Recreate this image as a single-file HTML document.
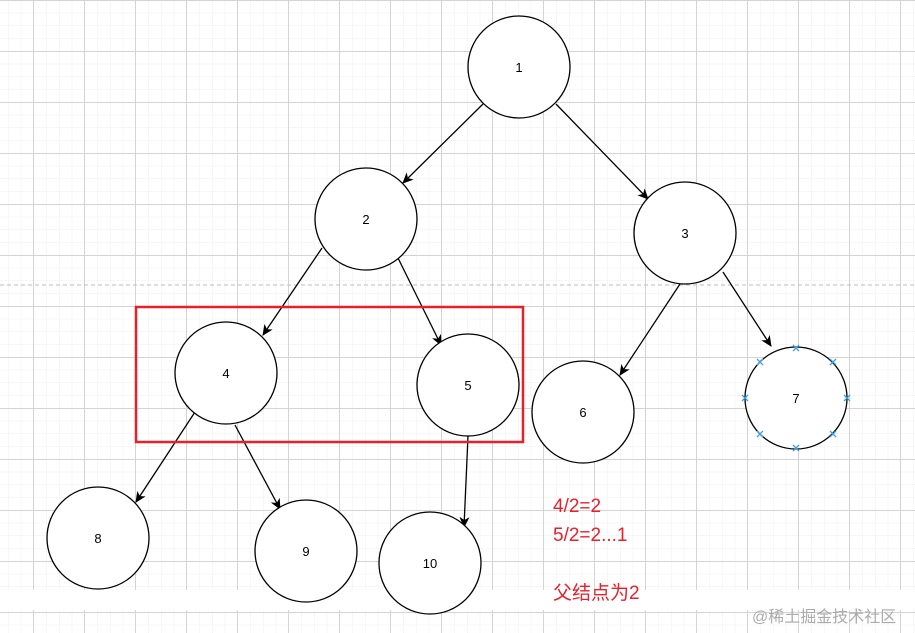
<!DOCTYPE html>
<html><head><meta charset="utf-8"><style>
html,body{margin:0;padding:0;background:#fff;}
svg{display:block;}
</style></head><body>
<svg width="915" height="633" xmlns="http://www.w3.org/2000/svg" font-family="Liberation Sans, sans-serif">
<defs>
<pattern id="minor" width="12.75" height="12.75" patternUnits="userSpaceOnUse" x="8" y="0">
<path d="M0 0H12.75M0 0V12.75" stroke="#efefef" stroke-width="1" fill="none"/>
</pattern>
<pattern id="major" width="51" height="51" patternUnits="userSpaceOnUse" x="33" y="0">
<path d="M0 0.5H51M0.5 0V51" stroke="#d4d4d4" stroke-width="1" fill="none"/>
</pattern>
<marker id="ar" markerWidth="12" markerHeight="12" refX="10" refY="5" orient="auto" markerUnits="userSpaceOnUse">
<path d="M0 0L11 5L0 10L3 5Z" fill="#000"/>
</marker>
</defs>
<rect width="915" height="633" fill="url(#minor)"/>
<rect width="915" height="633" fill="url(#major)"/>
<line x1="0" y1="285" x2="915" y2="285" stroke="#bbb" stroke-dasharray="4,3"/>
<rect x="0" y="590" width="915" height="20" fill="#fff"/>
<g stroke="#000" stroke-width="1.3" fill="none" marker-end="url(#ar)">
<line x1="483" y1="104" x2="403" y2="183"/>
<line x1="556" y1="104" x2="648" y2="199"/>
<line x1="322" y1="248" x2="263" y2="335"/>
<line x1="398" y1="258" x2="441" y2="345"/>
<line x1="680" y1="284" x2="620" y2="375"/>
<line x1="723" y1="272" x2="771" y2="346"/>
<line x1="195" y1="412" x2="136" y2="502"/>
<line x1="235" y1="425" x2="280" y2="509"/>
<line x1="468" y1="436" x2="464" y2="527"/>
</g>
<g stroke="#000" stroke-width="1.3" fill="#fff">
<circle cx="519" cy="67" r="51"/>
<circle cx="366" cy="219" r="51"/>
<circle cx="685" cy="233" r="51"/>
<circle cx="226" cy="373" r="51"/>
<circle cx="468" cy="385" r="51"/>
<circle cx="583" cy="412" r="51"/>
<circle cx="796" cy="398" r="51"/>
<circle cx="98" cy="538" r="51"/>
<circle cx="306" cy="551" r="51"/>
<circle cx="430" cy="563" r="51"/>
</g>
<g font-size="13" text-anchor="middle" fill="#000">
<text x="519" y="72">1</text>
<text x="366" y="224">2</text>
<text x="685" y="238">3</text>
<text x="226" y="378">4</text>
<text x="468" y="390">5</text>
<text x="583" y="417">6</text>
<text x="796" y="403">7</text>
<text x="98" y="543">8</text>
<text x="306" y="556">9</text>
<text x="430" y="568">10</text>
</g>
<g stroke="#3aa0e0" stroke-width="1.3">
<path d="M793 345l6 6M799 345l-6 6"/>
<path d="M830 359l6 6M836 359l-6 6"/>
<path d="M844 395l6 6M850 395l-6 6"/>
<path d="M830 431l6 6M836 431l-6 6"/>
<path d="M793 445l6 6M799 445l-6 6"/>
<path d="M757 431l6 6M763 431l-6 6"/>
<path d="M742 395l6 6M748 395l-6 6"/>
<path d="M757 359l6 6M763 359l-6 6"/>
</g>
<rect x="136" y="307" width="387" height="135" fill="none" stroke="#e8202a" stroke-width="2.5"/>
<g fill="#e8202a" font-size="19" font-family="Liberation Sans, Noto Sans CJK SC, sans-serif">
<text x="553" y="512">4/2=2</text>
<text x="553" y="541">5/2=2...1</text>
<text x="553" y="599">父结点为2</text>
</g>
<text x="752" y="622" font-size="16" fill="#aaa" font-family="Liberation Sans, Noto Sans CJK SC, sans-serif">@稀土掘金技术社区</text>
</svg>
</body></html>
